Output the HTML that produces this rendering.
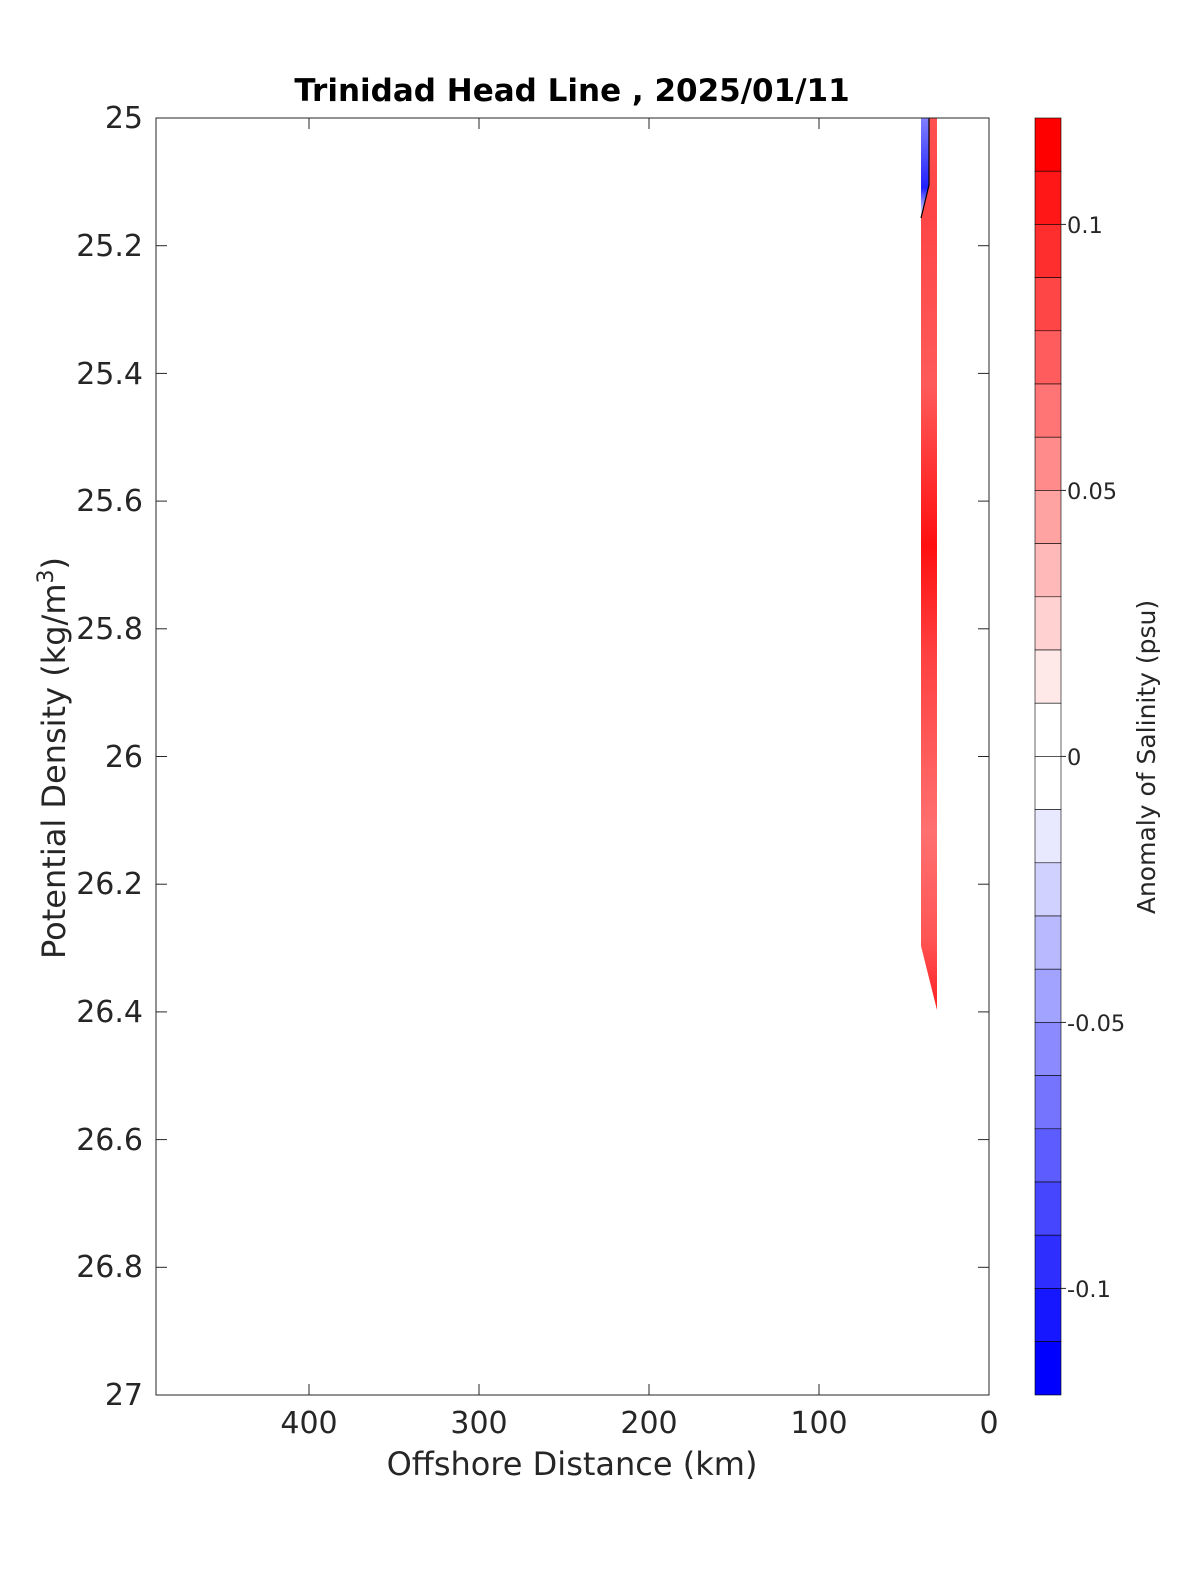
<!DOCTYPE html>
<html><head><meta charset="utf-8"><style>
html,body{margin:0;background:#fff;overflow:hidden;width:1200px;height:1575px;}
svg{display:block;font-family:"DejaVu Sans","Liberation Sans",sans-serif;}
</style></head><body>
<svg width="1200" height="1575" viewBox="0 0 1200 1575" xmlns="http://www.w3.org/2000/svg">
<defs>
<linearGradient id="rg" x1="0" y1="0" x2="0" y2="1">
<stop offset="0" stop-color="#ff5050"/>
<stop offset="0.1" stop-color="#ff4545"/>
<stop offset="0.3" stop-color="#ff5a5a"/>
<stop offset="0.48" stop-color="#ff1010"/>
<stop offset="0.6" stop-color="#ff4040"/>
<stop offset="0.8" stop-color="#ff7070"/>
<stop offset="0.92" stop-color="#ff5555"/>
<stop offset="1" stop-color="#ff2020"/>
</linearGradient>
<linearGradient id="bg" x1="0" y1="0" x2="0" y2="1">
<stop offset="0" stop-color="#8080ff"/>
<stop offset="0.7" stop-color="#2020ff"/>
<stop offset="1" stop-color="#ffffff"/>
</linearGradient>
</defs>
<rect width="1200" height="1575" fill="#fff"/>
<text x="572" y="101" text-anchor="middle" font-size="31" font-weight="bold" fill="#000">Trinidad Head Line , 2025/01/11</text>
<polygon points="921,118 937,118 937,1010 921,946" fill="url(#rg)"/>
<polygon points="921,118 929,118 929,185 921,218" fill="url(#bg)"/>
<polyline points="929,118 929,185 921,218" fill="none" stroke="#000" stroke-width="1.2"/>
<rect x="156" y="118" width="833" height="1277" fill="none" stroke="#262626" stroke-width="1"/>
<g stroke="#262626" stroke-width="1">
<line x1="309" y1="1395" x2="309" y2="1384"/><line x1="479" y1="1395" x2="479" y2="1384"/><line x1="649" y1="1395" x2="649" y2="1384"/><line x1="819" y1="1395" x2="819" y2="1384"/>
<line x1="309" y1="118" x2="309" y2="129"/><line x1="479" y1="118" x2="479" y2="129"/><line x1="649" y1="118" x2="649" y2="129"/><line x1="819" y1="118" x2="819" y2="129"/>
<line x1="156" y1="245.7" x2="167" y2="245.7"/><line x1="156" y1="373.4" x2="167" y2="373.4"/><line x1="156" y1="501.1" x2="167" y2="501.1"/><line x1="156" y1="628.8" x2="167" y2="628.8"/><line x1="156" y1="756.5" x2="167" y2="756.5"/><line x1="156" y1="884.2" x2="167" y2="884.2"/><line x1="156" y1="1011.9" x2="167" y2="1011.9"/><line x1="156" y1="1139.6" x2="167" y2="1139.6"/><line x1="156" y1="1267.3" x2="167" y2="1267.3"/>
<line x1="989" y1="245.7" x2="978" y2="245.7"/><line x1="989" y1="373.4" x2="978" y2="373.4"/><line x1="989" y1="501.1" x2="978" y2="501.1"/><line x1="989" y1="628.8" x2="978" y2="628.8"/><line x1="989" y1="756.5" x2="978" y2="756.5"/><line x1="989" y1="884.2" x2="978" y2="884.2"/><line x1="989" y1="1011.9" x2="978" y2="1011.9"/><line x1="989" y1="1139.6" x2="978" y2="1139.6"/><line x1="989" y1="1267.3" x2="978" y2="1267.3"/>
</g>
<g font-size="30" fill="#262626" text-anchor="middle">
<text x="309" y="1433">400</text><text x="479" y="1433">300</text><text x="649" y="1433">200</text><text x="819" y="1433">100</text><text x="989" y="1433">0</text>
</g>
<g font-size="30" fill="#262626" text-anchor="end">
<text x="143" y="128">25</text><text x="143" y="256">25.2</text><text x="143" y="384">25.4</text><text x="143" y="511">25.6</text><text x="143" y="639">25.8</text><text x="143" y="767">26</text><text x="143" y="894">26.2</text><text x="143" y="1022">26.4</text><text x="143" y="1150">26.6</text><text x="143" y="1277">26.8</text><text x="143" y="1405">27</text>
</g>
<text x="572" y="1475" text-anchor="middle" font-size="32" fill="#262626">Offshore Distance (km)</text>
<text transform="translate(65,758) rotate(-90)" text-anchor="middle" font-size="32" fill="#262626">Potential Density (kg/m<tspan dy="-12" font-size="22">3</tspan><tspan dy="12">)</tspan></text>
<g stroke="#000" stroke-width="0.6">
<rect x="1035" y="118.0" width="26" height="53.2" fill="rgb(255,0,0)"/>
<rect x="1035" y="171.2" width="26" height="53.2" fill="rgb(255,23,23)"/>
<rect x="1035" y="224.4" width="26" height="53.2" fill="rgb(255,46,46)"/>
<rect x="1035" y="277.6" width="26" height="53.2" fill="rgb(255,70,70)"/>
<rect x="1035" y="330.8" width="26" height="53.2" fill="rgb(255,93,93)"/>
<rect x="1035" y="384.0" width="26" height="53.2" fill="rgb(255,116,116)"/>
<rect x="1035" y="437.2" width="26" height="53.2" fill="rgb(255,139,139)"/>
<rect x="1035" y="490.4" width="26" height="53.2" fill="rgb(255,162,162)"/>
<rect x="1035" y="543.6" width="26" height="53.2" fill="rgb(255,185,185)"/>
<rect x="1035" y="596.8" width="26" height="53.2" fill="rgb(255,209,209)"/>
<rect x="1035" y="650.0" width="26" height="53.2" fill="rgb(255,232,232)"/>
<rect x="1035" y="703.2" width="26" height="53.2" fill="rgb(255,255,255)"/>
<rect x="1035" y="756.4" width="26" height="53.2" fill="rgb(255,255,255)"/>
<rect x="1035" y="809.6" width="26" height="53.2" fill="rgb(232,232,255)"/>
<rect x="1035" y="862.8" width="26" height="53.2" fill="rgb(209,209,255)"/>
<rect x="1035" y="916.0" width="26" height="53.2" fill="rgb(185,185,255)"/>
<rect x="1035" y="969.2" width="26" height="53.2" fill="rgb(162,162,255)"/>
<rect x="1035" y="1022.4" width="26" height="53.2" fill="rgb(139,139,255)"/>
<rect x="1035" y="1075.6" width="26" height="53.2" fill="rgb(116,116,255)"/>
<rect x="1035" y="1128.8" width="26" height="53.2" fill="rgb(93,93,255)"/>
<rect x="1035" y="1182.0" width="26" height="53.2" fill="rgb(70,70,255)"/>
<rect x="1035" y="1235.2" width="26" height="53.2" fill="rgb(46,46,255)"/>
<rect x="1035" y="1288.4" width="26" height="53.2" fill="rgb(23,23,255)"/>
<rect x="1035" y="1341.6" width="26" height="53.4" fill="rgb(0,0,255)"/>
</g>
<g stroke="#262626" stroke-width="1">
<line x1="1061" y1="224.4" x2="1066" y2="224.4"/><line x1="1061" y1="490.4" x2="1066" y2="490.4"/><line x1="1061" y1="756.4" x2="1066" y2="756.4"/><line x1="1061" y1="1022.4" x2="1066" y2="1022.4"/><line x1="1061" y1="1288.4" x2="1066" y2="1288.4"/>
</g>
<g font-size="22.5" fill="#262626">
<text x="1067" y="233">0.1</text><text x="1067" y="499">0.05</text><text x="1067" y="765">0</text><text x="1067" y="1031">-0.05</text><text x="1067" y="1297">-0.1</text>
</g>
<text transform="translate(1155,757) rotate(-90)" text-anchor="middle" font-size="25" fill="#262626">Anomaly of Salinity (psu)</text>
</svg>
</body></html>
